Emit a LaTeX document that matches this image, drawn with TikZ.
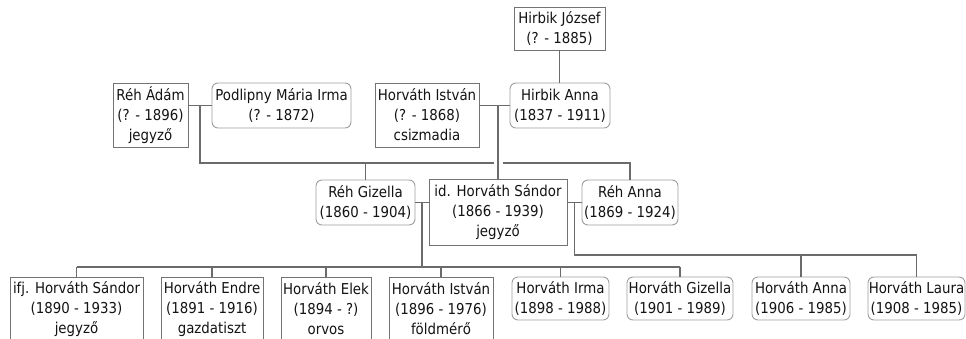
\documentclass[tikz,border=0pt]{standalone}
\usepackage{fontspec}
\setmainfont{DejaVu Sans}[FakeStretch=0.89]
\usetikzlibrary{calc}
\begin{document}
\begin{tikzpicture}[x=1pt,y=-1pt,
  every node/.style={font=\fontsize{15}{20}\selectfont, text=black!92, align=center, inner sep=0pt},
  sq/.style={draw=black!55, fill=white, line width=0.9pt},
  rd/.style={draw=black!38, fill=white, rounded corners=6pt, line width=0.9pt},
  conn/.style={draw=black!58, line width=1.2pt}]
\useasboundingbox (0,0) rectangle (966,339);
\clip (0,0) rectangle (966,339);
% generation 1
\node[sq, minimum width=91, minimum height=43] (jozsef) at (559.5,28.5) {Hirbik József\\(? - 1885)};
% generation 2
\node[sq, minimum width=75, minimum height=64] (reh) at (150.5,115) {Réh Ádám\\(? - 1896)\\jegyző};
\node[rd, minimum width=139, minimum height=45] (podlipny) at (281.5,105.5) {Podlipny Mária Irma\\(? - 1872)};
\node[sq, minimum width=104, minimum height=64] (istvan1) at (427,115) {Horváth István\\(? - 1868)\\csizmadia};
\node[rd, minimum width=100, minimum height=45] (anna1) at (560,105.5) {Hirbik Anna\\(1837 - 1911)};
% generation 3
\node[rd, minimum width=99, minimum height=45] (gizella) at (365.5,202.5) {Réh Gizella\\(1860 - 1904)};
\node[sq, minimum width=138, minimum height=66] (sandor) at (498,212) {id. Horváth Sándor\\(1866 - 1939)\\jegyző};
\node[rd, minimum width=96, minimum height=45] (rehanna) at (630,202.5) {Réh Anna\\(1869 - 1924)};
% generation 4
\node[sq, minimum width=133, minimum height=64] (ifj) at (76.5,309) {ifj. Horváth Sándor\\(1890 - 1933)\\jegyző};
\node[sq, minimum width=102, minimum height=64] (endre) at (212,309) {Horváth Endre\\(1891 - 1916)\\gazdatiszt};
\node[sq, minimum width=90, minimum height=64] (elek) at (326,309) {Horváth Elek\\(1894 - ?)\\orvos};
\node[sq, minimum width=104, minimum height=64] (istvan2) at (441,309) {Horváth István\\(1896 - 1976)\\földmérő};
\node[rd, minimum width=97, minimum height=43] (irma) at (560.5,298.5) {Horváth Irma\\(1898 - 1988)};
\node[rd, minimum width=106, minimum height=43] (gizella2) at (680,298.5) {Horváth Gizella\\(1901 - 1989)};
\node[rd, minimum width=98, minimum height=43] (anna2) at (801,298.5) {Horváth Anna\\(1906 - 1985)};
\node[rd, minimum width=97, minimum height=43] (laura) at (916.5,298.5) {Horváth Laura\\(1908 - 1985)};
% connectors
\draw[conn] (jozsef.south) -- (jozsef.south |- anna1.north);
\draw[conn] (reh.east |- podlipny.west) -- (podlipny.west);
\coordinate (m1) at ($(reh.east |- podlipny.west)!0.5!(podlipny.west)$);
\coordinate (b1) at (0,163);
\draw[conn] (m1) -- (m1 |- b1) -- ($(sandor.north |- b1)+(-4.5,0)$);
\draw[conn] ($(sandor.north |- b1)+(4.5,0)$) -- (rehanna.north |- b1) -- (rehanna.north);
\draw[conn] (gizella.north |- b1) -- (gizella.north);
\draw[conn] (istvan1.east |- anna1.west) -- (anna1.west);
\draw[conn] (sandor.north |- anna1.west) -- (sandor.north);
\draw[conn] (gizella.east) -- (sandor.west |- gizella.east);
\coordinate (m3) at ($(gizella.east)!0.5!(sandor.west |- gizella.east)$);
\coordinate (b2) at (0,267);
\draw[conn] (m3) -- (m3 |- b2);
\draw[conn] (ifj.north |- b2) -- (gizella2.north |- b2);
\foreach \n in {ifj,endre,elek,istvan2,irma,gizella2} \draw[conn] (\n.north |- b2) -- (\n.north);
\draw[conn] (sandor.east |- rehanna.west) -- (rehanna.west);
\coordinate (m4) at ($(sandor.east |- rehanna.west)!0.5!(rehanna.west)$);
\coordinate (b3) at (0,255);
\draw[conn] (m4) -- (m4 |- b3) -- (laura.north |- b3) -- (laura.north);
\draw[conn] (anna2.north |- b3) -- (anna2.north);
\end{tikzpicture}
\end{document}
